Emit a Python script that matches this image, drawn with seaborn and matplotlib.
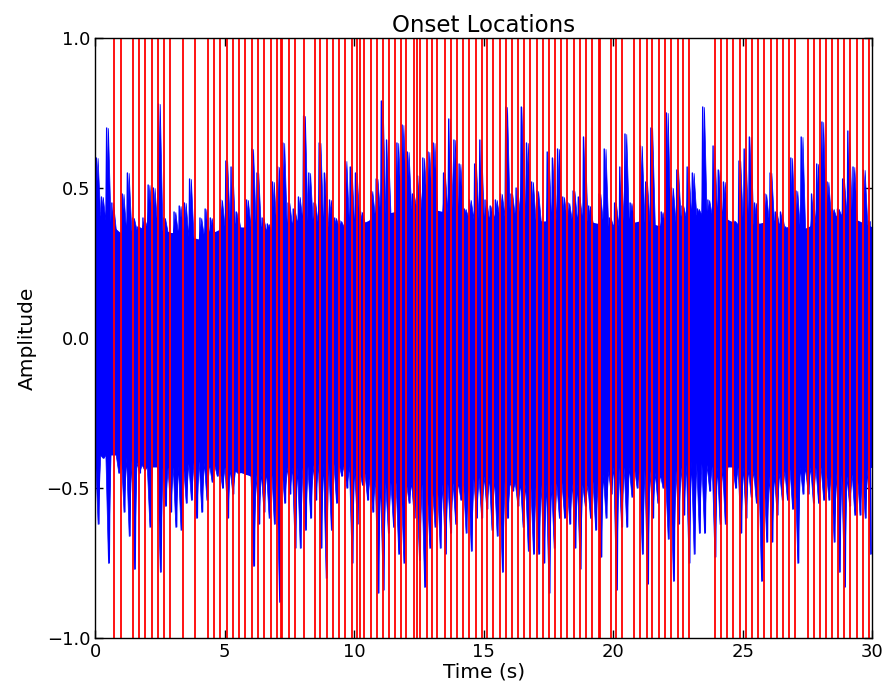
import numpy as np
import pandas as pd
import matplotlib
matplotlib.use('Agg')
import matplotlib.pyplot as plt
import seaborn as sns

# onset times (s)
onsets = [0.745, 0.99, 1.45, 1.71, 1.94, 2.19, 2.42, 2.66, 2.89, 3.38, 3.85, 4.35, 4.59, 4.82,
          5.08, 5.31, 5.56, 5.80, 6.06, 6.29, 6.53, 6.78, 7.02, 7.17, 7.23, 7.50, 7.73, 8.06,
          8.48, 8.69, 8.94, 9.18, 9.41, 9.66, 9.90, 10.10, 10.22, 10.38, 10.64, 10.87, 11.10,
          11.34, 11.57, 11.81, 12.00, 12.32, 12.41, 12.53, 12.80, 13.00, 13.21, 13.50, 13.73,
          13.98, 14.21, 14.44, 14.70, 14.93, 15.14, 15.37, 15.63, 15.86, 16.09, 16.32, 16.56,
          16.78, 17.04, 17.27, 17.52, 17.75, 17.98, 18.22, 18.47, 18.71, 18.94, 19.17, 19.43,
          19.48, 19.91, 20.10, 20.33, 20.81, 21.04, 21.30, 21.51, 21.77, 22.00, 22.24, 22.48,
          22.70, 22.93, 23.93, 24.15, 24.37, 24.63, 24.88, 25.12, 25.36, 25.59, 25.81, 26.07,
          26.30, 26.53, 26.77, 27.01, 27.50, 27.74, 27.97, 28.20, 28.45, 28.68, 28.91, 29.15,
          29.39, 29.64, 29.87]

# waveform peaks per 0.2 s window
bin_width = 0.2
peak_hi = [0.60, 0.47, 0.70, 0.45, 0.35, 0.48, 0.55, 0.40, 0.37, 0.40,
           0.51, 0.50, 0.78, 0.40, 0.35, 0.42, 0.44, 0.45, 0.53, 0.28,
           0.40, 0.43, 0.40, 0.35, 0.46, 0.59, 0.57, 0.42, 0.36, 0.46,
           0.63, 0.55, 0.40, 0.38, 0.52, 0.57, 0.65, 0.45, 0.43, 0.47,
           0.74, 0.55, 0.45, 0.65, 0.55, 0.46, 0.40, 0.39, 0.59, 0.57,
           0.55, 0.42, 0.38, 0.49, 0.53, 0.79, 0.66, 0.35, 0.65, 0.71,
           0.62, 0.48, 0.54, 0.60, 0.62, 0.65, 0.38, 0.55, 0.73, 0.66,
           0.58, 0.43, 0.46, 0.58, 0.66, 0.46, 0.44, 0.46, 0.48, 0.77,
           0.48, 0.50, 0.77, 0.65, 0.52, 0.49, 0.38, 0.62, 0.60, 0.63,
           0.47, 0.45, 0.49, 0.47, 0.67, 0.44, 0.35, 0.48, 0.63, 0.40,
           0.45, 0.57, 0.68, 0.45, 0.35, 0.64, 0.52, 0.70, 0.37, 0.42,
           0.75, 0.50, 0.56, 0.44, 0.57, 0.55, 0.43, 0.77, 0.46, 0.64,
           0.56, 0.52, 0.39, 0.39, 0.59, 0.63, 0.67, 0.45, 0.29, 0.48,
           0.55, 0.42, 0.42, 0.37, 0.60, 0.49, 0.67, 0.35, 0.48, 0.58,
           0.72, 0.52, 0.43, 0.43, 0.53, 0.69, 0.57, 0.35, 0.56, 0.39]
peak_lo = [-0.62, -0.40, -0.75, -0.32, -0.45, -0.58, -0.66, -0.77, -0.45, -0.44,
           -0.63, -0.40, -0.78, -0.56, -0.58, -0.63, -0.64, -0.55, -0.54, -0.60,
           -0.58, -0.54, -0.48, -0.46, -0.50, -0.60, -0.52, -0.45, -0.43, -0.45,
           -0.76, -0.62, -0.58, -0.60, -0.62, -0.88, -0.55, -0.52, -0.70, -0.70,
           -0.64, -0.60, -0.54, -0.70, -0.80, -0.64, -0.55, -0.46, -0.50, -0.75,
           -0.62, -0.49, -0.54, -0.58, -0.85, -0.84, -0.65, -0.63, -0.72, -0.75,
           -0.55, -0.60, -0.74, -0.83, -0.70, -0.63, -0.70, -0.72, -0.65, -0.62,
           -0.54, -0.65, -0.71, -0.60, -0.60, -0.57, -0.64, -0.66, -0.78, -0.60,
           -0.51, -0.56, -0.63, -0.71, -0.72, -0.72, -0.75, -0.85, -0.70, -0.60,
           -0.60, -0.62, -0.70, -0.77, -0.56, -0.60, -0.64, -0.73, -0.60, -0.52,
           -0.84, -0.63, -0.63, -0.53, -0.50, -0.72, -0.82, -0.60, -0.55, -0.50,
           -0.67, -0.81, -0.62, -0.59, -0.75, -0.72, -0.65, -0.65, -0.51, -0.73,
           -0.62, -0.62, -0.41, -0.50, -0.65, -0.60, -0.53, -0.55, -0.81, -0.68,
           -0.68, -0.59, -0.54, -0.54, -0.57, -0.75, -0.52, -0.52, -0.55, -0.55,
           -0.54, -0.54, -0.68, -0.78, -0.83, -0.56, -0.59, -0.59, -0.60, -0.72]

# level up to which the waveform is mostly solid blue, one value per second
core_time = list(range(31))
core_hi = [0.42, 0.35, 0.37, 0.35, 0.33, 0.37, 0.37, 0.35, 0.39, 0.37, 0.37, 0.41, 0.43, 0.43, 0.41, 0.39,
           0.41, 0.39, 0.39, 0.39, 0.37, 0.39, 0.37, 0.41, 0.41, 0.37, 0.39, 0.35, 0.39, 0.41, 0.37]
core_lo = [-0.39, -0.39, -0.43, -0.43, -0.41, -0.43, -0.46, -0.43, -0.43, -0.41, -0.43, -0.48, -0.48, -0.49,
           -0.48, -0.46, -0.48, -0.49, -0.48, -0.49, -0.43, -0.43, -0.46, -0.41, -0.43, -0.43, -0.46, -0.43,
           -0.43, -0.46, -0.43]

sns.set_style('white')
plt.rcParams.update({
    'xtick.direction': 'in', 'ytick.direction': 'in',
    'xtick.top': True, 'ytick.right': True,
    'xtick.major.size': 6, 'ytick.major.size': 6,
    'xtick.bottom': True, 'ytick.left': True,
    'axes.edgecolor': 'black', 'axes.linewidth': 1.0,
    'text.color': 'black', 'axes.labelcolor': 'black',
    'xtick.color': 'black', 'ytick.color': 'black',
})
plt.rcParams['font.family'] = ['DejaVu Sans']

fig = plt.figure(figsize=(8.88, 6.98), dpi=100)
ax = fig.add_axes([0.107, 0.086, 0.8755, 0.8596])

starts = np.arange(len(peak_hi)) * bin_width
centers = starts + 0.5 * bin_width

# spiky body: each window's peak rises from the solid core edge at the window borders
edge_t = np.column_stack([starts, centers]).ravel()
body_hi = np.column_stack([np.interp(starts, core_time, core_hi), peak_hi]).ravel()
body_lo = np.column_stack([np.interp(starts, core_time, core_lo), peak_lo]).ravel()
ax.fill_between(edge_t, body_lo, body_hi, color='b', lw=0.5, edgecolor='b')
ax.fill_between(core_time, core_lo, core_hi, color='b', lw=0)

# zig-zag strokes between upper and lower peaks of each window
wave = pd.DataFrame({
    't': np.column_stack([starts + 0.25 * bin_width, starts + 0.75 * bin_width]).ravel(),
    'amp': np.column_stack([peak_hi, peak_lo]).ravel(),
})
sns.lineplot(data=wave, x='t', y='amp', sort=False, estimator=None, color='b', lw=1.0, ax=ax)

ax.vlines(onsets, -1, 1, color='r', lw=1.3)

ax.set_xlim(0, 30)
ax.set_ylim(-1, 1)
ax.set_xticks(range(0, 31, 5))
ax.set_yticks([-1.0, -0.5, 0.0, 0.5, 1.0])
ax.tick_params(labelsize=13, colors='black', width=1)
ax.set_xlabel('Time (s)', fontsize=14.5, labelpad=1)
ax.set_ylabel('Amplitude', fontsize=14.5, labelpad=7)
ax.set_title('Onset Locations', fontsize=16.5, pad=4)
for s in ax.spines.values():
    s.set_visible(True)
    s.set_zorder(5)

fig.savefig('out.png', dpi=100)
